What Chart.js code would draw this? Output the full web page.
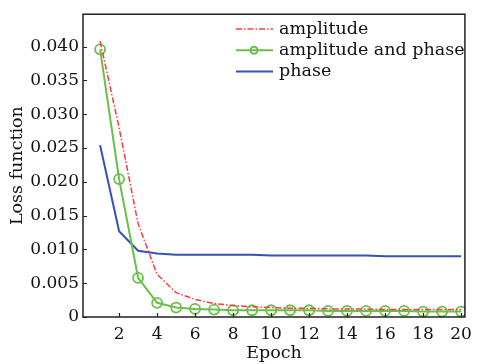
<!DOCTYPE html>
<html>
<head>
<meta charset="utf-8">
<script src="https://cdn.jsdelivr.net/npm/chart.js@4/dist/chart.umd.min.js"></script>
<style>
  html, body { margin: 0; padding: 0; background: #fff; }
  #wrap { width: 479px; height: 364px; position: relative; }
</style>
</head>
<body>
<div id="wrap"><canvas id="lossChart"></canvas></div>
<script>
// data
const epochs = [1, 2, 3, 4, 5, 6, 7, 8, 9, 10, 11, 12, 13, 14, 15, 16, 17, 18, 19, 20];
const amplitude = [0.0408, 0.0280, 0.0138, 0.0063, 0.0036, 0.0026, 0.0020, 0.0017, 0.0015, 0.0014,
    0.0013, 0.0013, 0.0012, 0.0012, 0.0012, 0.0011, 0.0011, 0.0011, 0.0011, 0.0011];
const amplitudeAndPhase = [0.0396, 0.0204, 0.0058, 0.0021, 0.0014, 0.0012, 0.0011, 0.0010, 0.0010, 0.0010,
    0.0010, 0.0010, 0.0009, 0.0009, 0.0009, 0.0009, 0.0009, 0.0008, 0.0008, 0.0008];
const phase = [0.0254, 0.0127, 0.0098, 0.0094, 0.0092, 0.0092, 0.0092, 0.0092, 0.0092, 0.0091,
    0.0091, 0.0091, 0.0091, 0.0091, 0.0091, 0.0090, 0.0090, 0.0090, 0.0090, 0.0090];
const seriesNames = ['amplitude', 'amplitude and phase', 'phase'];
const xTicks = [2, 4, 6, 8, 10, 12, 14, 16, 18, 20];
const yTicks = [0, 0.005, 0.010, 0.015, 0.020, 0.025, 0.030, 0.035, 0.040];

const FONT = 'DejaVu Serif';
const toPoints = arr => arr.map((v, i) => ({ x: epochs[i], y: v }));

// box frame + inward tick marks
const framePlugin = {
    id: 'frame',
    afterDraw(chart) {
        const { ctx, chartArea: a, scales } = chart;
        ctx.save();
        ctx.strokeStyle = '#222';
        ctx.lineWidth = 1.5;
        ctx.strokeRect(a.left, a.top, a.right - a.left, a.bottom - a.top);
        ctx.lineWidth = 1.2;
        ctx.beginPath();
        xTicks.forEach(t => {
            const px = Math.round(scales.x.getPixelForValue(t)) + 0.5;
            ctx.moveTo(px, a.bottom);
            ctx.lineTo(px, a.bottom - 4);
        });
        yTicks.forEach(t => {
            const py = Math.round(scales.y.getPixelForValue(t)) + 0.5;
            ctx.moveTo(a.left, py);
            ctx.lineTo(a.left + 4, py);
        });
        ctx.stroke();
        ctx.restore();
    }
};

// legend drawn inside the plot, top right
const legendPlugin = {
    id: 'insideLegend',
    afterDraw(chart) {
        const { ctx } = chart;
        ctx.save();
        ctx.font = '17.5px "' + FONT + '"';
        ctx.textBaseline = 'middle';
        chart.data.datasets.forEach((ds, i) => {
            const y = 29 + i * 21.3;
            ctx.strokeStyle = ds.borderColor;
            ctx.lineWidth = ds.borderWidth;
            ctx.setLineDash(ds.borderDash || []);
            ctx.beginPath();
            ctx.moveTo(236, y);
            ctx.lineTo(273, y);
            ctx.stroke();
            ctx.setLineDash([]);
            if (ds.pointRadius > 0) {
                ctx.beginPath();
                ctx.arc(254, y, 3.5, 0, Math.PI * 2);
                ctx.stroke();
            }
            ctx.fillStyle = '#111';
            ctx.fillText(ds.label, 279, y);
        });
        ctx.restore();
    }
};

new Chart(document.getElementById('lossChart'), {
    type: 'line',
    data: {
        datasets: [{
            label: seriesNames[0],
            data: toPoints(amplitude),
            borderColor: '#ff3b3b',
            borderWidth: 1.5,
            borderDash: [6, 2, 1.5, 2],
            pointRadius: 0,
            tension: 0
        }, {
            label: seriesNames[1],
            data: toPoints(amplitudeAndPhase),
            borderColor: '#68c04a',
            borderWidth: 2,
            pointRadius: 5,
            pointBorderWidth: 1.8,
            pointBackgroundColor: 'rgba(0,0,0,0)',
            pointBorderColor: '#68c04a',
            tension: 0
        }, {
            label: seriesNames[2],
            data: toPoints(phase),
            borderColor: '#3452b4',
            borderWidth: 2,
            pointRadius: 0,
            tension: 0
        }]
    },
    plugins: [framePlugin, legendPlugin],
    options: {
        responsive: true,
        maintainAspectRatio: false,
        animation: false,
        layout: { padding: { top: 10, right: 7, left: 0, bottom: 0 } },
        plugins: {
            legend: { display: false },
            tooltip: { enabled: false }
        },
        scales: {
            x: {
                type: 'linear',
                min: 0.1,
                max: 20.2,
                afterFit: scale => { scale.height = 47; },
                afterBuildTicks: scale => { scale.ticks = xTicks.map(v => ({ value: v })); },
                grid: { display: false, drawTicks: false },
                border: { display: false },
                ticks: {
                    color: '#111',
                    padding: 7,
                    maxRotation: 0,
                    autoSkip: false,
                    font: { family: FONT, size: 17 }
                },
                title: {
                    display: true,
                    text: 'Epoch',
                    color: '#111',
                    padding: { top: 0, bottom: 0 },
                    font: { family: FONT, size: 17.5 }
                }
            },
            y: {
                min: 0,
                max: 0.0448,
                afterFit: scale => { scale.width = 83; },
                afterBuildTicks: scale => { scale.ticks = yTicks.map(v => ({ value: v })); },
                grid: { display: false, drawTicks: false },
                border: { display: false },
                ticks: {
                    color: '#111',
                    padding: 4,
                    font: { family: FONT, size: 17 },
                    callback: v => v === 0 ? '0' : v.toFixed(3)
                },
                title: {
                    display: true,
                    text: 'Loss function',
                    color: '#111',
                    padding: { top: 7, bottom: 2 },
                    font: { family: FONT, size: 17.5 }
                }
            }
        }
    }
});
</script>
</body>
</html>
